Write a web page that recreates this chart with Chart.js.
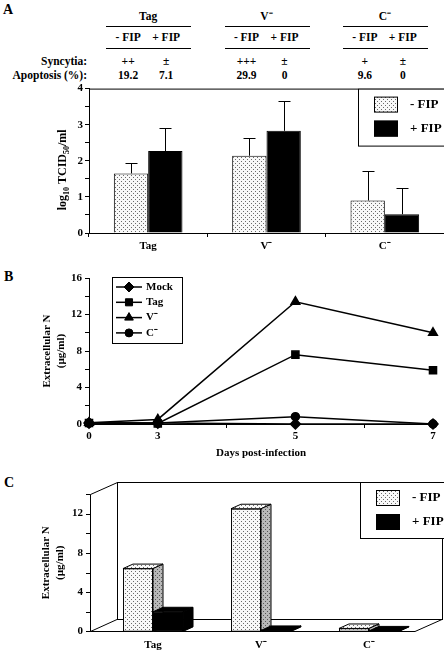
<!DOCTYPE html>
<html>
<head>
<meta charset="utf-8">
<script src="https://cdn.jsdelivr.net/npm/chart.js@4.4.1/dist/chart.umd.min.js"></script>
<style>
  html, body { margin: 0; padding: 0; background: #fff; }
  #page { position: relative; width: 444px; height: 654px; overflow: hidden;
          font-family: "Liberation Serif", "Times New Roman", serif; font-weight: bold; color: #000; }
  canvas { position: absolute; left: 0; }
  .lbl { position: absolute; white-space: nowrap; line-height: 1; }
  .panel { font-size: 14px; }
  .hd { font-size: 11.5px; transform: translate(-50%, -50%); }
  .hdr { font-size: 11.5px; transform: translate(-100%, -50%); }
  .rule { position: absolute; height: 0; border-top: 1px solid #000; }
</style>
</head>
<body>
<div id="page">
  <div class="lbl panel" style="left:3px;top:3px">A</div>
  <div class="lbl panel" style="left:4px;top:270px">B</div>
  <div class="lbl panel" style="left:4px;top:476px">C</div>
  <div id="header"></div>
  <canvas id="chartA" width="444" height="175" style="top:80px"></canvas>
  <canvas id="chartB" width="444" height="198" style="top:262px"></canvas>
  <canvas id="chartC" width="444" height="194" style="top:460px"></canvas>
</div>
<script>
document.addEventListener('DOMContentLoaded', () => {
    // ---- data ----
    const strains = ['Tag', 'V\u207B', 'C\u207B'];
    const treatments = ['- FIP', '+ FIP'];
    const syncytia = [['++', '±'], ['+++', '±'], ['+', '±']];
    const apoptosis = [['19.2', '7.1'], ['29.9', '0'], ['9.6', '0']];

    // panel A, log10 TCID50/ml
    const titreMinus = [1.65, 2.14, 0.90];
    const titrePlus = [2.27, 2.83, 0.52];
    const titreMinusErr = [0.30, 0.49, 0.81];
    const titrePlusErr = [0.63, 0.82, 0.74];

    // panel B, extracellular N (ug/ml) by day
    const dayLabels = ['0', '3', '', '5', '', '7'];
    const seriesNames = ['Mock', 'Tag', 'V\u207B', 'C\u207B'];
    const mockN = [0.1, 0.1, null, 0, null, 0];
    const tagN = [0.1, 0.05, null, 7.6, null, 5.9];
    const vMinusN = [0.15, 0.5, null, 13.4, null, 10.0];
    const cMinusN = [0.1, 0.1, null, 0.8, null, 0];

    // panel C, extracellular N (ug/ml)
    const nMinus = [6.4, 12.5, 0.3];
    const nPlus = [2.0, 0.1, 0.05];

    const FONT = '"Liberation Serif", "Times New Roman", serif';
    Chart.defaults.font.family = FONT;
    Chart.defaults.font.weight = 'bold';
    Chart.defaults.font.size = 11;
    Chart.defaults.color = '#000';

    function dotPattern(bg, dot) {
        const c = document.createElement('canvas');
        c.width = 4; c.height = 4;
        const g = c.getContext('2d');
        g.fillStyle = bg; g.fillRect(0, 0, 4, 4);
        g.fillStyle = dot;
        g.fillRect(1, 1, 1, 1);
        g.fillRect(3, 3, 1, 1);
        return g.createPattern(c, 'repeat');
    }
    const lightDots = dotPattern('#f8f8f8', '#6a6a6a');
    const grayDots = dotPattern('#b8b8b8', '#555');

    function swatchLegend(ctx, left, top, width, height, fills) {
        ctx.save();
        ctx.fillStyle = '#fff';
        ctx.fillRect(left, top, width, height);
        ctx.strokeStyle = '#000';
        ctx.lineWidth = 1;
        ctx.strokeRect(left + 0.5, top + 0.5, width, height);
        ctx.font = 'bold 13px ' + FONT;
        ctx.textBaseline = 'middle';
        treatments.forEach((t, i) => {
            const sy = top + 8 + i * 24;
            ctx.fillStyle = fills[i];
            ctx.fillRect(left + 16, sy, 24, 16);
            ctx.strokeRect(left + 16.5, sy + 0.5, 23, 15);
            ctx.fillStyle = '#000';
            ctx.fillText(t, left + 52, sy + 8);
        });
        ctx.restore();
    }

    // ---- panel A ----
    const errorSets = [titreMinusErr, titrePlusErr];

    const errorBars = {
        id: 'errorBars',
        afterDatasetsDraw(chart) {
            const { ctx } = chart;
            const y = chart.scales.y;
            ctx.save();
            ctx.strokeStyle = '#000';
            ctx.lineWidth = 1;
            chart.data.datasets.forEach((ds, i) => {
                chart.getDatasetMeta(i).data.forEach((bar, j) => {
                    const top = Math.round(y.getPixelForValue(ds.data[j] + errorSets[i][j])) + 0.5;
                    const x = Math.round(bar.x) + 0.5;
                    ctx.beginPath();
                    ctx.moveTo(x, bar.y);
                    ctx.lineTo(x, top);
                    ctx.moveTo(x - 6, top);
                    ctx.lineTo(x + 6, top);
                    ctx.stroke();
                });
            });
            ctx.restore();
        }
    };

    const frameA = {
        id: 'frameA',
        afterDraw(chart) {
            const { ctx, chartArea: a } = chart;
            ctx.save();
            ctx.strokeStyle = '#000';
            ctx.lineWidth = 1;
            ctx.beginPath();
            ctx.moveTo(a.left, a.top + 0.5);
            ctx.lineTo(a.right, a.top + 0.5);
            ctx.stroke();
            swatchLegend(ctx, a.right - 86, a.top, 90, 57, [lightDots, '#000']);

            // y title with subscripts
            const parts = [['log', false], ['10', true], [' TCID', false], ['50', true], ['/ml', false]];
            const big = 'bold 12px ' + FONT, small = 'bold 8px ' + FONT;
            let total = 0;
            parts.forEach(([s, sub]) => { ctx.font = sub ? small : big; total += ctx.measureText(s).width; });
            ctx.translate(63, (a.top + a.bottom) / 2 + 9);
            ctx.rotate(-Math.PI / 2);
            ctx.fillStyle = '#000';
            ctx.textBaseline = 'middle';
            let x = -total / 2;
            parts.forEach(([s, sub]) => {
                ctx.font = sub ? small : big;
                ctx.fillText(s, x, sub ? 4 : 0);
                x += ctx.measureText(s).width;
            });
            ctx.restore();
        }
    };

    const chartA = new Chart(document.getElementById('chartA'), {
        type: 'bar',
        data: {
            labels: strains,
            datasets: [
                { label: treatments[0], data: titreMinus, backgroundColor: lightDots, borderColor: '#000',
                  borderWidth: 1, categoryPercentage: 0.58, barPercentage: 1 },
                { label: treatments[1], data: titrePlus, backgroundColor: '#000', borderColor: '#000',
                  borderWidth: 1, categoryPercentage: 0.58, barPercentage: 1 }
            ]
        },
        options: {
            responsive: false,
            animation: false,
            layout: { padding: { top: 8, right: 0, left: 0, bottom: 0 } },
            plugins: { legend: { display: false }, tooltip: { enabled: false } },
            scales: {
                x: {
                    grid: { drawOnChartArea: false, tickLength: 4, color: '#000' },
                    border: { color: '#000' },
                    ticks: { padding: 3 },
                    afterFit: (s) => { s.height = 22; }
                },
                y: {
                    min: 0, max: 4,
                    ticks: { stepSize: 0.5, padding: 2, callback: (v) => Number.isInteger(v) ? v : '' },
                    grid: { drawOnChartArea: false, tickLength: 4, color: '#000' },
                    border: { color: '#000' },
                    afterFit: (s) => { s.width = 89; }
                }
            }
        },
        plugins: [errorBars, frameA]
    });

    // header table above panel A
    const head = document.getElementById('header');
    function addText(txt, x, y, cls) {
        const d = document.createElement('div');
        d.className = 'lbl ' + (cls || 'hd');
        d.style.left = x + 'px';
        d.style.top = y + 'px';
        d.textContent = txt;
        head.appendChild(d);
    }
    function addRule(x0, x1, y) {
        const d = document.createElement('div');
        d.className = 'rule';
        d.style.left = x0 + 'px';
        d.style.top = y + 'px';
        d.style.width = (x1 - x0) + 'px';
        head.appendChild(d);
    }
    strains.forEach((s, i) => {
        const cx = chartA.scales.x.getPixelForValue(i);
        addText(s, cx, 17);
        addRule(cx - 42, cx + 43, 26);
        addRule(cx - 42, cx + 43, 48);
        treatments.forEach((t, k) => {
            const colX = cx + (k === 0 ? -20 : 18);
            addText(t, colX, 38);
            addText(syncytia[i][k], colX, 62);
            addText(apoptosis[i][k], colX, 76);
        });
    });
    addText('Syncytia:', 87, 62, 'hdr');
    addText('Apoptosis (%):', 87, 76, 'hdr');

    // ---- panel B ----
    const lineSeries = [mockN, tagN, vMinusN, cMinusN];
    const pointStyles = ['rectRot', 'rect', 'triangle', 'circle'];
    const pointSizes = [5, 5, 5, 4];

    const legendB = {
        id: 'legendB',
        afterDraw(chart) {
            const { ctx, chartArea: a } = chart;
            const left = a.left + 23, top = a.top - 1;
            ctx.save();
            ctx.fillStyle = '#fff';
            ctx.fillRect(left, top, 70, 66);
            ctx.strokeStyle = '#000';
            ctx.lineWidth = 1;
            ctx.strokeRect(left + 0.5, top + 0.5, 70, 66);
            ctx.font = 'bold 11px ' + FONT;
            ctx.textBaseline = 'middle';
            seriesNames.forEach((name, i) => {
                const y = top + 10 + i * 15.3;
                ctx.strokeStyle = '#000';
                ctx.fillStyle = '#000';
                ctx.lineWidth = 1.5;
                ctx.beginPath();
                ctx.moveTo(left + 4, y);
                ctx.lineTo(left + 30, y);
                ctx.stroke();
                ctx.lineWidth = 1;
                Chart.helpers.drawPoint(ctx, { pointStyle: pointStyles[i], radius: pointSizes[i], rotation: 0, borderWidth: 1 }, left + 17, y);
                ctx.fillText(name, left + 34, y);
            });
            ctx.restore();
        }
    };

    new Chart(document.getElementById('chartB'), {
        type: 'line',
        data: {
            labels: dayLabels,
            datasets: seriesNames.map((name, i) => ({
                label: name,
                data: lineSeries[i],
                borderColor: '#000',
                backgroundColor: '#000',
                borderWidth: 1.5,
                pointStyle: pointStyles[i],
                pointRadius: pointSizes[i],
                pointBackgroundColor: '#000',
                pointBorderColor: '#000',
                spanGaps: true,
                tension: 0,
                clip: false
            }))
        },
        options: {
            responsive: false,
            animation: false,
            layout: { padding: { top: 16, right: 11, left: 0, bottom: 0 } },
            plugins: { legend: { display: false }, tooltip: { enabled: false } },
            scales: {
                x: {
                    grid: { drawOnChartArea: false, tickLength: 4, color: '#000' },
                    border: { color: '#000' },
                    ticks: { padding: 2, autoSkip: false, maxRotation: 0 },
                    title: { display: true, text: 'Days post-infection', padding: 0, font: { size: 11 } },
                    afterFit: (s) => { s.height = 36; }
                },
                y: {
                    min: 0, max: 16,
                    ticks: { stepSize: 2, padding: 3, callback: (v) => v % 4 === 0 ? v : '' },
                    grid: { drawOnChartArea: false, tickLength: 4, color: '#000' },
                    border: { color: '#000' },
                    title: { display: true, text: ['Extracellular N', '(\u00B5g/ml)'], padding: { top: 41, bottom: 0 }, font: { size: 11 } },
                    afterFit: (s) => { s.width = 89; }
                }
            }
        },
        plugins: [legendB]
    });

    // ---- panel C (3-D bars) ----
    const faceFills = [
        { top: lightDots, side: grayDots },
        { top: '#000', side: '#000' }
    ];

    const box3d = {
        id: 'box3d',
        beforeDatasetsDraw(chart) {
            const { ctx, chartArea: a } = chart;
            const y = chart.scales.y;
            const dx = 27, dy = -12;
            const x0 = a.left - 9, x1 = a.right - 8;
            const yb = Math.round(y.getPixelForValue(0)) + 0.5;
            const yt = Math.round(y.getPixelForValue(y.max)) + 0.5;
            ctx.save();
            ctx.strokeStyle = '#000';
            ctx.fillStyle = '#fff';
            ctx.lineWidth = 1;
            // back wall
            ctx.fillRect(x0 + dx, yt + dy, x1 - x0, yb - yt);
            ctx.strokeRect(x0 + dx + 0.5, yt + dy, x1 - x0, yb - yt);
            // floor
            ctx.beginPath();
            ctx.moveTo(x0 + 0.5, yb);
            ctx.lineTo(x1, yb);
            ctx.lineTo(x1 + dx, yb + dy);
            ctx.lineTo(x0 + dx, yb + dy);
            ctx.closePath();
            ctx.fill();
            ctx.stroke();
            // left wall edges and axis
            ctx.beginPath();
            ctx.moveTo(x0 + 0.5, yt);
            ctx.lineTo(x0 + dx + 0.5, yt + dy);
            ctx.moveTo(x0 + 0.5, yt);
            ctx.lineTo(x0 + 0.5, yb);
            y.ticks.forEach((t) => {
                const py = Math.round(y.getPixelForValue(t.value)) + 0.5;
                ctx.moveTo(x0 - 4, py);
                ctx.lineTo(x0 + 0.5, py);
            });
            ctx.stroke();
            ctx.restore();
        },
        afterDatasetsDraw(chart) {
            const { ctx, chartArea: a } = chart;
            const ddx = 10, ddy = -4.5;
            const metas = [chart.getDatasetMeta(0), chart.getDatasetMeta(1)];
            ctx.save();
            ctx.strokeStyle = '#000';
            ctx.lineWidth = 1;
            strains.forEach((s, j) => {
                metas.forEach((meta, i) => {
                    const el = meta.data[j];
                    if (i > 0) el.draw(ctx, a);
                    const l = el.x - el.width / 2, r = el.x + el.width / 2;
                    const top = el.y, base = el.base;
                    ctx.fillStyle = faceFills[i].top;
                    ctx.beginPath();
                    ctx.moveTo(l, top);
                    ctx.lineTo(r, top);
                    ctx.lineTo(r + ddx, top + ddy);
                    ctx.lineTo(l + ddx, top + ddy);
                    ctx.closePath();
                    ctx.fill();
                    ctx.stroke();
                    ctx.fillStyle = faceFills[i].side;
                    ctx.beginPath();
                    ctx.moveTo(r, top);
                    ctx.lineTo(r + ddx, top + ddy);
                    ctx.lineTo(r + ddx, base + ddy);
                    ctx.lineTo(r, base);
                    ctx.closePath();
                    ctx.fill();
                    ctx.stroke();
                });
            });
            ctx.restore();
        },
        afterDraw(chart) {
            const { ctx, chartArea: a } = chart;
            const yt = Math.round(chart.scales.y.getPixelForValue(chart.scales.y.max)) - 12;
            swatchLegend(ctx, a.right - 63, yt, 90, 56, [lightDots, '#000']);
        }
    };

    new Chart(document.getElementById('chartC'), {
        type: 'bar',
        data: {
            labels: strains,
            datasets: [
                { label: treatments[0], data: nMinus, backgroundColor: lightDots, borderColor: '#000',
                  borderWidth: 1, borderSkipped: false, categoryPercentage: 0.556, barPercentage: 1 },
                { label: treatments[1], data: nPlus, backgroundColor: '#000', borderColor: '#000',
                  borderWidth: 1, borderSkipped: false, categoryPercentage: 0.556, barPercentage: 1 }
            ]
        },
        options: {
            responsive: false,
            animation: false,
            layout: { padding: { top: 34, right: 21, left: 0, bottom: 0 } },
            plugins: { legend: { display: false }, tooltip: { enabled: false } },
            scales: {
                x: {
                    grid: { display: false, drawTicks: false },
                    border: { display: false },
                    ticks: { padding: 7 },
                    afterFit: (s) => { s.height = 20; }
                },
                y: {
                    min: 0, max: 14,
                    ticks: { stepSize: 2, padding: 16, callback: (v) => v % 4 === 0 ? v : '' },
                    grid: { display: false, drawTicks: false },
                    border: { display: false },
                    title: { display: true, text: ['Extracellular N', '(\u00B5g/ml)'], padding: { top: 40, bottom: 0 }, font: { size: 11 } },
                    afterFit: (s) => { s.width = 99; }
                }
            }
        },
        plugins: [box3d]
    });
});
</script>
</body>
</html>
